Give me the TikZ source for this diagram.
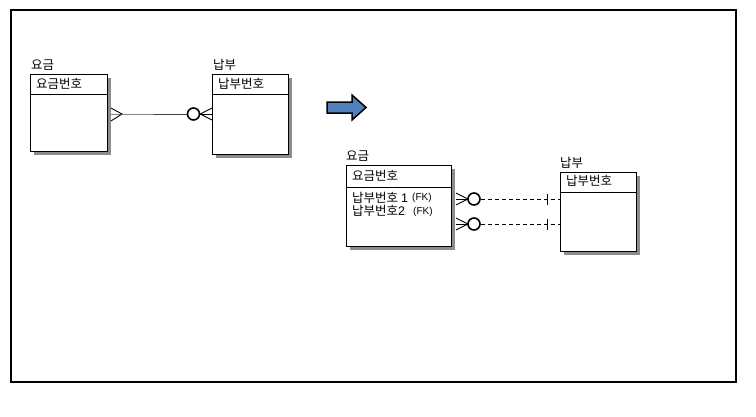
\documentclass[tikz,border=0pt]{standalone}
\usepackage{fontspec}
\setmainfont{Noto Sans CJK KR}
\newfontfamily\lat{Liberation Sans}
\usetikzlibrary{shadows,calc}
\definecolor{arrowblue}{RGB}{79,129,189}
\tikzset{
 entity/.style={draw, line width=0.9pt, fill=white, inner sep=0pt, anchor=north west,
   drop shadow={shadow xshift=3.5pt, shadow yshift=-3.5pt, fill=black!45, opacity=1}},
 lbl/.style={font=\fontsize{12.5}{13}\selectfont, inner sep=0pt, anchor=west},
 fk/.style={font=\lat\fontsize{10}{11}\selectfont, inner sep=0pt, anchor=west},
 hdr/.style={line width=0.7pt},
 rel/.style={line width=0.9pt},
 circ/.style={circle, draw, line width=1.6pt, minimum size=12pt, inner sep=0pt, fill=white},
}
\begin{document}
\begin{tikzpicture}[x=1pt,y=-1pt]
\useasboundingbox (0,0) rectangle (756,416);
\draw[line width=2pt] (11,10) rectangle (736,382);

% entities
\node[entity, minimum width=77pt, minimum height=77pt] (A) at (30,74) {};
\node[entity, minimum width=76pt, minimum height=80pt] (B) at (212,74) {};
\node[entity, minimum width=105pt, minimum height=81pt] (C) at (346,165) {};
\node[entity, minimum width=76pt, minimum height=79pt] (D) at (560,172) {};

\draw[hdr] ([yshift=-20pt]A.north west) -- ([yshift=-20pt]A.north east);
\draw[hdr] ([yshift=-20pt]B.north west) -- ([yshift=-20pt]B.north east);
\draw[hdr] ([yshift=-22pt]C.north west) -- ([yshift=-22pt]C.north east);
\draw[hdr] ([yshift=-20pt]D.north west) -- ([yshift=-20pt]D.north east);

% texts
\node[lbl] (Al) at (31,65) {요금};
\node[lbl] (Ah) at (36,84) {요금번호};
\node[lbl] (Bl) at (213,65) {납부};
\node[lbl] (Bh) at (218,84) {납부번호};
\node[lbl] (Cl) at (346,156) {요금};
\node[lbl] (Ch) at (352,176) {요금번호};
\node[lbl] (Cr1) at (352,198) {납부번호 {\lat 1}};
\node[fk] (Cf1) at (412,198) {(FK)};
\node[lbl] (Cr2) at (352,211) {납부번호{\lat 2}};
\node[fk] (Cf2) at (413,212) {(FK)};
\node[lbl] (Dl) at (560,163) {납부};
\node[lbl] (Dh) at (566,181) {납부번호};

% arrow
\filldraw[fill=arrowblue, line width=1.5pt, line join=miter]
  (327,102) -- (352,102) -- (352,95) -- (366,107.5) -- (352,120) -- (352,113) -- (327,113) -- cycle;

% left relation
\node[circ] (o0) at (193.5,114) {};
\coordinate (a0) at (122,114);
\draw[rel] ($(A.east|-o0)+(3,-6)$) -- (a0) -- ($(A.east|-o0)+(3,7)$);
\draw[rel, black!75] ($(A.east|-o0)+(3,0)$) -- (a0) -- (o0.west);
\draw[rel] (o0.east) -- ($(B.west|-o0)+(0,-6)$);
\draw[rel] (o0.east) -- (B.west|-o0);
\draw[rel] (o0.east) -- ($(B.west|-o0)+(0,6)$);

% right relations
\node[circ] (o1) at (474,199) {};
\node[circ] (o2) at (474,224) {};
\coordinate (a1) at (468,199);
\coordinate (a2) at (468,224);
\foreach \a/\o in {a1/o1, a2/o2}{
  \draw[rel] ($(C.east|-\o)+(4,-6)$) -- (\a) -- ($(C.east|-\o)+(4,6)$);
  \draw[rel] ($(C.east|-\o)+(4,0)$) -- (\a);
  \draw[rel, dash pattern=on 4pt off 3pt] (\o.east) -- (D.west|-\o);
  \draw[rel] ($(D.west|-\o)+(-13,-5.5)$) -- ++(0,11);
}
\end{tikzpicture}
\end{document}
